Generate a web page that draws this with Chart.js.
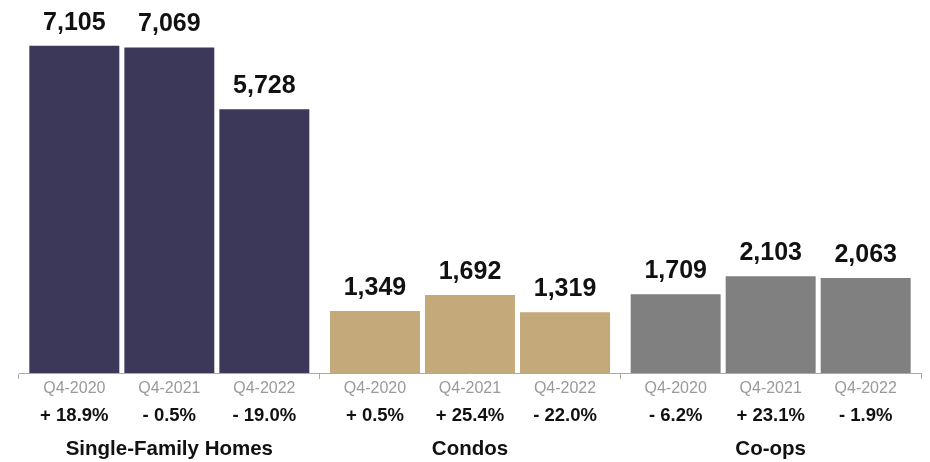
<!DOCTYPE html>
<html>
<head>
<meta charset="utf-8">
<script src="https://cdn.jsdelivr.net/npm/chart.js@4"></script>
<style>
  body { margin: 0; background: #fff; }
  #wrap { width: 930px; height: 462px; }
</style>
</head>
<body>
<div id="wrap"><canvas id="canvas"></canvas></div>
<script>
const groups = ['Single-Family Homes', 'Condos', 'Co-ops']
const periods = ['Q4-2020', 'Q4-2021', 'Q4-2022']

// sales per group, one value per period
const singleFamily = [7105, 7069, 5728]
const condos = [1349, 1692, 1319]
const coops = [1709, 2103, 2063]

// year over year change per group
const singleFamilyChange = ['+ 18.9%', '- 0.5%', '- 19.0%']
const condosChange = ['+ 0.5%', '+ 25.4%', '- 22.0%']
const coopsChange = ['- 6.2%', '+ 23.1%', '- 1.9%']

const groupColors = ['#3b3859', '#c4a97a', '#808080']
const FONT = '"Liberation Sans", Arial, Helvetica, sans-serif'

const byGroup = [singleFamily, condos, coops]
const changeByGroup = [singleFamilyChange, condosChange, coopsChange]

// one dataset per period so bars sit side by side inside each group
const datasets = periods.map((p, i) => ({
    label: p,
    data: byGroup.map(g => g[i]),
    changes: changeByGroup.map(g => g[i]),
    backgroundColor: groupColors,
    categoryPercentage: 0.948,
    barPercentage: 0.947,
}))

const labelsPlugin = {
    id: 'barLabels',
    afterDatasetsDraw(chart) {
        const ctx = chart.ctx
        const bottom = chart.chartArea.bottom
        ctx.save()
        ctx.textAlign = 'center'
        chart.data.datasets.forEach((ds, di) => {
            const meta = chart.getDatasetMeta(di)
            meta.data.forEach((bar, i) => {
                // value above the bar
                ctx.fillStyle = '#111'
                ctx.font = 'bold 25px ' + FONT
                ctx.textBaseline = 'alphabetic'
                ctx.fillText(ds.data[i].toLocaleString('en-US'), bar.x, bar.y - 16)
                // period and change below the axis
                ctx.textBaseline = 'middle'
                ctx.fillStyle = '#9a9a9a'
                ctx.font = '16px ' + FONT
                ctx.fillText(ds.label, bar.x, bottom + 16)
                ctx.fillStyle = '#111'
                ctx.font = 'bold 18.5px ' + FONT
                ctx.fillText(ds.changes[i], bar.x, bottom + 43)
            })
        })
        const x = chart.scales.x
        ctx.font = 'bold 20.5px ' + FONT
        ctx.fillStyle = '#111'
        groups.forEach((g, i) => {
            ctx.fillText(g, x.getPixelForValue(i), bottom + 76)
        })
        ctx.restore()
    }
}

const chart = new Chart(document.getElementById('canvas'), {
    type: 'bar',
    data: { labels: groups, datasets: datasets },
    options: {
        responsive: true,
        maintainAspectRatio: false,
        animation: false,
        layout: { padding: { left: 19, right: 9, top: 0, bottom: 0 } },
        plugins: { legend: { display: false }, tooltip: { enabled: false } },
        scales: {
            x: {
                offset: true,
                ticks: { display: false },
                grid: { display: true, offset: true, drawOnChartArea: false, drawTicks: true, tickLength: 6, color: '#aaa' },
                border: { display: true, color: '#aaa' },
                afterFit: s => { s.height = 89 },
            },
            y: {
                display: false,
                min: 0,
                max: 8100,
            }
        }
    },
    plugins: [labelsPlugin]
})
</script>
</body>
</html>
